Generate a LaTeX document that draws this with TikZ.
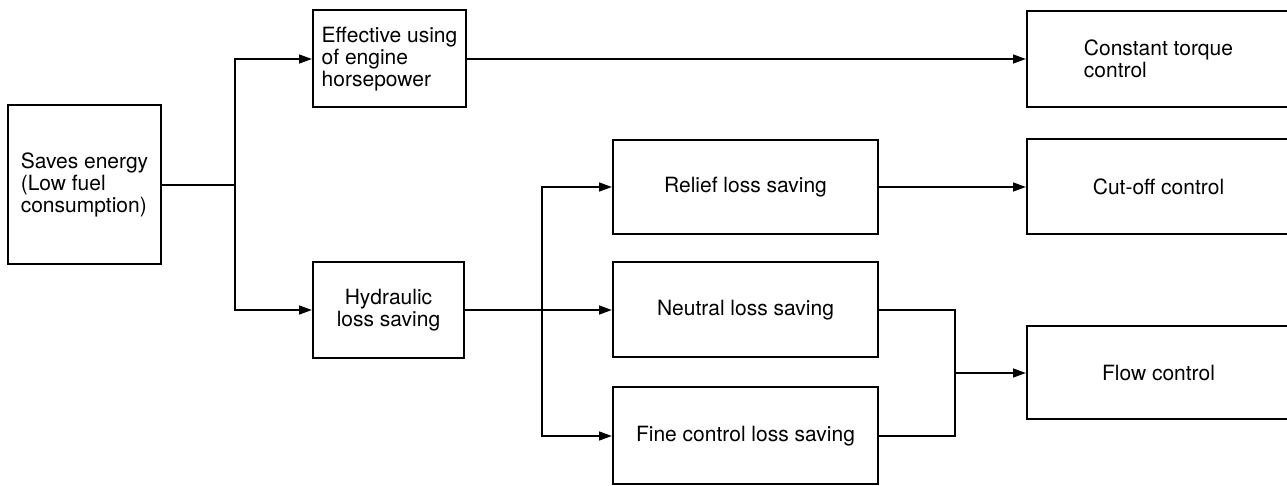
\documentclass[tikz,border=0pt]{standalone}
\usepackage{fontspec}
\setmainfont{TeX Gyre Heros}
\usetikzlibrary{arrows.meta}

\tikzset{
	block/.style={draw, line width=1pt, inner sep=0pt, align=left,
		font=\fontsize{10.5}{11}\selectfont},
	link/.style={line width=1pt},
	feed/.style={line width=1pt, -{Triangle[length=6.5pt,width=4.4pt]}}
}

\begin{document}
\begin{tikzpicture}[x=0.5pt, y=-0.5pt]
		\useasboundingbox (0, 0) rectangle (1287, 486);

		% left side
		\node[block, minimum width=76.5pt, minimum height=79.5pt] (save) at (84.5, 185) {Saves energy\\(Low fuel\\consumption)};
		\node[block, minimum width=76.5pt, minimum height=48.5pt] (eff) at (389.5, 59) {Effective using\\of engine\\horsepower};
		\node[block, align=center, minimum width=75.5pt, minimum height=48pt] (hyd) at (388.5, 310) {Hydraulic\\loss saving};

		% savings
		\node[block, minimum width=132.5pt, minimum height=47pt] (relief) at (745.5, 187) {Relief loss saving};
		\node[block, minimum width=132.5pt, minimum height=47.5pt] (neutral) at (745.5, 310) {Neutral loss saving};
		\node[block, minimum width=132.5pt, minimum height=48.5pt] (fine) at (745.5, 436) {Fine control loss saving};

		% controls
		\node[block, minimum width=131.5pt, minimum height=48pt] (torque) at (1158.5, 59) {Constant torque\\control};
		\node[block, minimum width=131.5pt, minimum height=47.5pt] (cutoff) at (1158.5, 187) {Cut-off control};
		\node[block, minimum width=131.5pt, minimum height=46.5pt] (flow) at (1158.5, 373) {Flow control};

		\coordinate (split1) at (235, 185);
		\coordinate (split2) at (542, 310);
		\coordinate (merge) at (955, 373);

		\draw[link] (save.east) -- (split1);
		\foreach \t in {eff, hyd} {
			\draw[feed] (split1) |- (\t.west);
		}
		\draw[feed] (hyd.east) -- (neutral.west);
		\foreach \t in {relief, fine} {
			\draw[feed] (split2) |- (\t.west);
		}
		\draw[feed] (eff.east) -- (torque.west);
		\draw[feed] (relief.east) -- (cutoff.west);
		\foreach \s in {neutral, fine} {
			\draw[link] (\s.east) -| (merge);
		}
		\draw[feed] (merge) -- (flow.west);
	\end{tikzpicture}
\end{document}
